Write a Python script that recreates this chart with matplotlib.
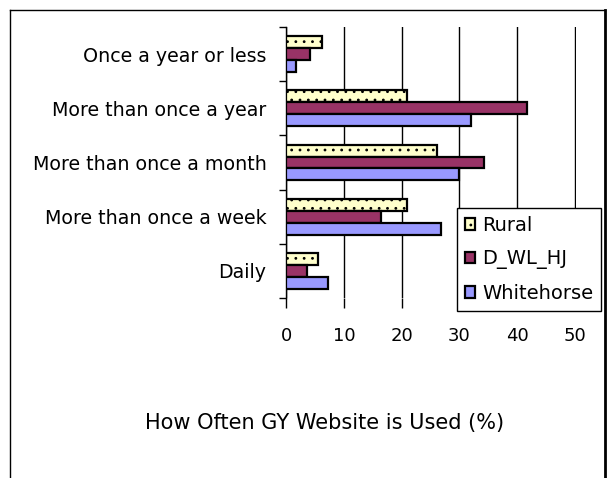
import matplotlib.pyplot as plt
import numpy as np
from matplotlib.lines import Line2D

## Data
categories = ["Once a year or less", "More than once a year", "More than once a month",
              "More than once a week", "Daily"]
rural = [6.3, 20.9, 26.1, 20.9, 5.6]
dwlhj = [4.1, 41.6, 34.2, 16.5, 3.7]
whitehorse = [1.8, 32.0, 29.9, 26.8, 7.2]
series_names = ["Rural", "D_WL_HJ", "Whitehorse"]
xticks = [0, 10, 20, 30, 40, 50]

plt.rcParams['font.family'] = ['DejaVu Sans']
plt.rcParams['hatch.linewidth'] = 0.8

fig = plt.figure(figsize=(6.07, 4.78), dpi=100)
ax = fig.add_axes([286/607, 1-298/478, (576-286)/607, (298-27)/478])

y = np.arange(len(categories))
h = 0.22
ax.barh(y - h, rural, height=h, color='#FFFFCC', edgecolor='black', linewidth=1.6,
        hatch='..', label=series_names[0], zorder=3)
ax.barh(y, dwlhj, height=h, color='#993366', edgecolor='black', linewidth=1.6,
        label=series_names[1], zorder=3)
ax.barh(y + h, whitehorse, height=h, color='#9999FF', edgecolor='black', linewidth=1.6,
        label=series_names[2], zorder=3)

ax.set_ylim(len(categories) - 0.5, -0.5)
ax.set_xlim(0, 50.15)
ax.set_yticks(np.arange(-0.5, len(categories)), labels=[])
ax.set_yticks(y, labels=categories, minor=True)
ax.tick_params(axis='y', which='major', length=5, width=1)
ax.tick_params(axis='y', which='minor', length=0, pad=14, labelsize=13.7)
ax.set_xticks(xticks)
ax.tick_params(axis='x', length=7, width=1, pad=14, labelsize=13)

ax.grid(axis='x', color='black', linewidth=1, zorder=0)
for s in ['top', 'right', 'bottom']:
    ax.spines[s].set_visible(False)
ax.spines['left'].set_linewidth(1)

leg = ax.legend(loc='upper left', bbox_to_anchor=(457/607, 1-208/478), bbox_transform=fig.transFigure,
                fancybox=False, framealpha=1, edgecolor='black', fontsize=14,
                handlelength=0.55, handleheight=0.55, handletextpad=0.35, labelspacing=0.75,
                borderpad=0.4, borderaxespad=0)
leg.get_frame().set_linewidth(1)
leg.set_zorder(5)

fig.text(325/607, 1-423/478, "How Often GY Website is Used (%)", ha='center', va='center',
         fontsize=15)

## outer border
fig.add_artist(Line2D([10/607, 10/607], [0, 1-10/478], color='black', linewidth=1, transform=fig.transFigure))
fig.add_artist(Line2D([10/607, 605/607], [1-10/478, 1-10/478], color='black', linewidth=1, transform=fig.transFigure))
fig.add_artist(Line2D([605/607, 605/607], [0, 1-10/478], color='black', linewidth=2, transform=fig.transFigure))

plt.savefig("out.png", dpi=100)
